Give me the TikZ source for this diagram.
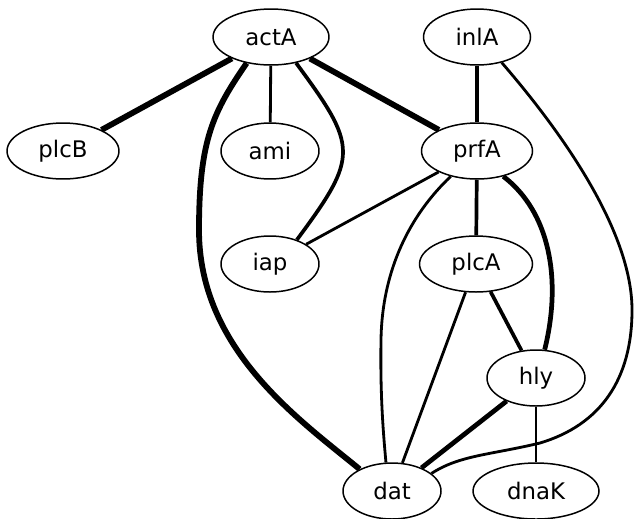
\documentclass[tikz,border=0pt]{standalone}
\usepackage{fontspec}
\setmainfont{DejaVu Sans}
\usetikzlibrary{shapes.geometric}
\begin{document}
\begin{tikzpicture}[x=0.02cm, y=-0.02cm,
  gnode/.style={ellipse, draw, line width=0.85pt, minimum height=1.12cm,
    minimum width=#1, inner sep=0pt, font=\fontsize{13}{15}\selectfont},
  ethin/.style={line width=1.6pt},
  emid/.style={line width=2.1pt},
  ethick/.style={line width=2.7pt},
  eheavy/.style={line width=3.3pt}]
\useasboundingbox (0,0) rectangle (634,518);

% genes
\node[gnode=2.32cm] (actA) at (271,37)  {actA};
\node[gnode=2.14cm] (inlA) at (477,37)  {inlA};
\node[gnode=2.24cm] (plcB) at (63,151)  {plcB};
\node[gnode=1.96cm] (ami)  at (270,151) {ami};
\node[gnode=2.22cm] (prfA) at (477,151) {prfA};
\node[gnode=1.96cm] (iap)  at (270,264) {iap};
\node[gnode=2.26cm] (plcA) at (476,264) {plcA};
\node[gnode=1.96cm] (hly)  at (536,378) {hly};
\node[gnode=1.96cm] (dat)  at (392,491) {dat};
\node[gnode=2.52cm] (dnaK) at (536,491) {dnaK};

% interactions
\draw[eheavy] (actA) -- (plcB);
\draw[ethin]  (actA) -- (ami);
\draw[eheavy] (actA) -- (prfA);
\draw[emid]   (actA.-46) .. controls (358,147) and (359,156) .. (iap.42);
\draw[eheavy] (actA.227) .. controls (213,112) and (199,140) .. (199,230)
              .. controls (199,350) and (300,420) .. (dat.146);
\draw[emid]   (inlA) -- (prfA);
\draw[ethin]  (inlA.-46) .. controls (560,130) and (632,230) .. (632,310)
              .. controls (632,380) and (600,425) .. (540,443)
              .. controls (490,455) and (460,455) .. (dat.24);
\draw[ethin]  (prfA) -- (iap);
\draw[emid]   (prfA) -- (plcA);
\draw[ethin]  (prfA.224) .. controls (410,215) and (382,270) .. (381,340)
              .. controls (380,400) and (384,440) .. (dat.102);
\draw[ethick] (prfA.-44) .. controls (550,212) and (562,280) .. (hly.73);
\draw[emid]   (plcA) -- (hly);
\draw[ethin]  (plcA) -- (dat);
\draw[ethick] (hly) -- (dat);
\draw[ethin]  (hly) -- (dnaK);
\end{tikzpicture}
\end{document}
